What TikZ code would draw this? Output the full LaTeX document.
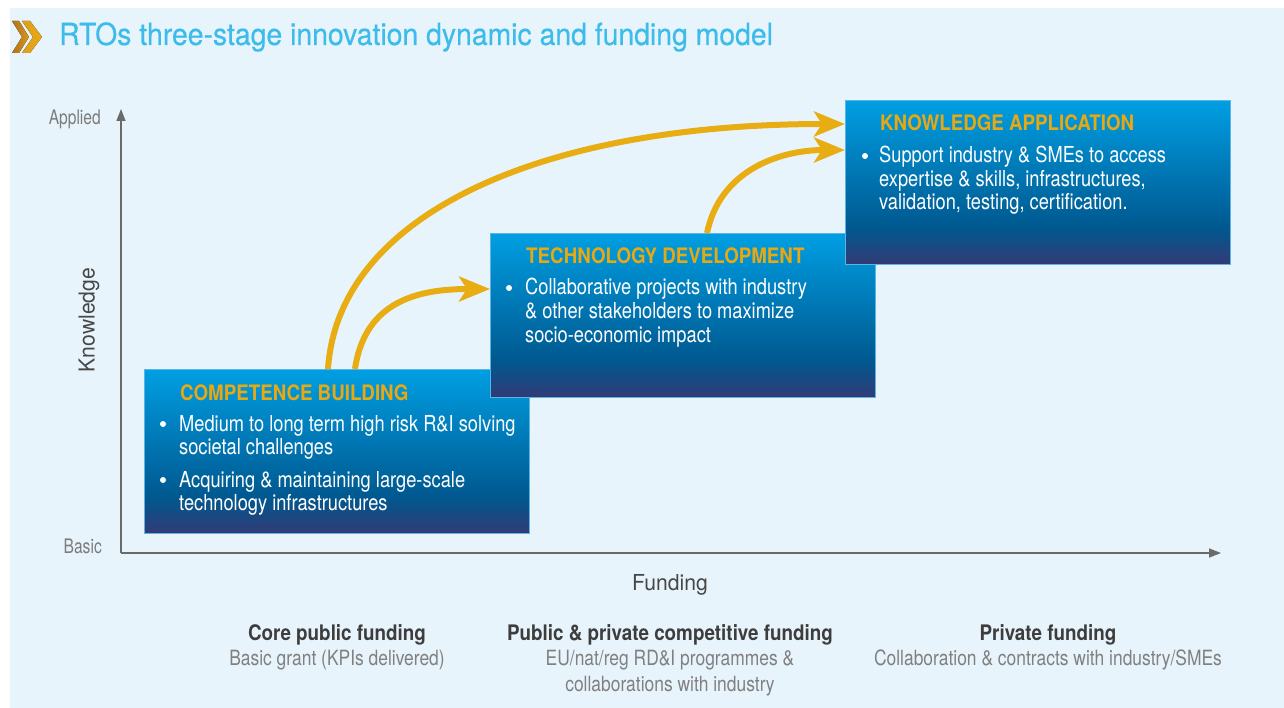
\documentclass[tikz,border=0pt]{standalone}
\usepackage{fontspec}
\setmainfont{TeX Gyre Heros}[FakeStretch=0.83]
\newfontfamily\boldface{TeX Gyre Heros}[FakeStretch=0.88]
\newfontfamily\titleface{TeX Gyre Heros}[FakeStretch=0.93, FakeBold=0.4]
\newfontfamily\axisface{TeX Gyre Heros}[FakeStretch=0.96]
\newfontfamily\tickface{TeX Gyre Heros}[FakeStretch=0.78]
\usetikzlibrary{arrows.meta,calc}

\definecolor{paper}{HTML}{E8F4FC}
\definecolor{titleblue}{HTML}{3CBCEB}
\definecolor{gold}{HTML}{E9AD14}
\definecolor{headgold}{HTML}{E8A812}
\definecolor{topblue}{HTML}{009FE3}
\definecolor{midblue}{HTML}{00588F}
\definecolor{navy}{HTML}{2E3D78}
\definecolor{boxedge}{HTML}{5DB3E3}
\definecolor{axisgray}{HTML}{6A6A6A}
\definecolor{ticktext}{HTML}{7C7C7C}
\definecolor{labeltext}{HTML}{474747}
\definecolor{fundhead}{HTML}{3D3D3D}
\definecolor{fundsub}{HTML}{808080}
\definecolor{chevdark}{HTML}{B0701C}
\definecolor{chevlight}{HTML}{E8AA19}

% blue-to-navy fill of the stage boxes (path maps to 25bp..75bp)
\pgfdeclareverticalshading{stagefill}{100bp}{%
  color(0bp)=(navy); color(26bp)=(navy); color(36bp)=(midblue);
  color(75bp)=(topblue); color(100bp)=(topblue)}

\tikzset{
  stagebox/.style={rectangle, anchor=north west, inner sep=0pt,
    minimum width=385pt, minimum height=164pt,
    shading=stagefill, draw=boxedge, line width=0.8pt},
  heading/.style={anchor=base west, inner sep=0pt, text=headgold,
    font=\boldface\bfseries\fontsize{21.3}{24}\selectfont},
  body/.style={anchor=base west, inner sep=0pt, text=white,
    font=\fontsize{22}{24}\selectfont},
  dot/.style={circle, fill=white, inner sep=0pt, minimum size=6pt},
  flow/.style={draw=gold, line width=6pt,
    -{Stealth[length=31pt, width=25pt, inset=8pt]}},
  axis/.style={draw=axisgray, line width=1.4pt,
    -{Triangle[length=12pt, width=9pt]}},
  ticklabel/.style={inner sep=0pt, text=ticktext,
    font=\tickface\fontsize{20}{22}\selectfont},
  axislabel/.style={inner sep=0pt, text=labeltext,
    font=\axisface\fontsize{22}{24}\selectfont},
  fundhead/.style={anchor=base, inner sep=0pt, text=fundhead,
    font=\boldface\bfseries\fontsize{21.4}{24}\selectfont},
  fundsub/.style={anchor=base, inner sep=0pt, text=fundsub,
    font=\fontsize{21}{24}\selectfont},
}

\begin{document}
\begin{tikzpicture}[x=1pt, y=-1pt]
\useasboundingbox (0,0) rectangle (1284,708);
\fill[white] (0,0) rectangle (1284,708);
\fill[paper] (10,8) rectangle (1284,708);

% title with double chevron mark
\fill[left color=chevdark, right color=chevlight!70!chevdark]
  (12,21) -- (19,21) -- (29,37) -- (19,53) -- (12,53) -- (22,37) -- cycle;
\fill[left color=chevlight!80!chevdark, right color=chevlight]
  (22,21) -- (30,21) -- (42,37) -- (30,53) -- (22,53) -- (33,37) -- cycle;
\node[anchor=base west, inner sep=0pt, text=titleblue,
  font=\titleface\fontsize{30.5}{34}\selectfont] (title) at (59,45)
  {RTOs three-stage innovation dynamic and funding model};

% axes
\coordinate (origin) at (121,553);
\coordinate (ytop) at (121,109);
\coordinate (xend) at (1221,553);
\draw[axis] (origin) -- (ytop);
\draw[axis] (origin) -- (xend);
\node[ticklabel, anchor=base east] (applied) at (101,125) {Applied};
\node[ticklabel, anchor=base east] (basic) at (102,553) {Basic};
\node[axislabel, rotate=90] (knowledge) at (89,320) {Knowledge};
\node[axislabel, anchor=base] (funding) at (670,590) {Funding};

% stage boxes
\node[stagebox] (cb) at (144,369) {};
\node[stagebox] (td) at (490,233) {};
\node[stagebox] (ka) at (845,100) {};

% competence building
\node[heading] (cbh) at (180,400) {COMPETENCE BUILDING};
\node[dot] (cbd1) at (163,424) {};
\node[body] (cb1) at (179,431) {Medium to long term high risk R\&I solving};
\node[body] (cb2) at (179,454.5) {societal challenges};
\node[dot] (cbd2) at (163,480) {};
\node[body] (cb3) at (179,487) {Acquiring \& maintaining large-scale};
\node[body] (cb4) at (179,510) {technology infrastructures};

% technology development
\node[heading] (tdh) at (526,264) {TECHNOLOGY DEVELOPMENT};
\node[dot] (tdd1) at (509,288) {};
\node[body] (td1) at (525,295) {Collaborative projects with industry};
\node[body] (td2) at (525,318.5) {\& other stakeholders to maximize};
\node[body] (td3) at (525,342) {socio-economic impact};

% knowledge application
\node[heading] (kah) at (880,131) {KNOWLEDGE APPLICATION};
\node[dot] (kad1) at (865,156) {};
\node[body] (ka1) at (879,163) {Support industry \& SMEs to access};
\node[body] (ka2) at (879,186.5) {expertise \& skills, infrastructures,};
\node[body] (ka3) at (879,210) {validation, testing, certification.};

% flows between stages
\coordinate (cbout1) at ($(cb.north west)+(184,0)$);
\coordinate (cbout2) at ($(cb.north west)+(211,0)$);
\coordinate (tdin) at ($(td.north west)+(0,56)$);
\coordinate (tdout) at ($(td.north west)+(217,0)$);
\coordinate (kain1) at ($(ka.north west)+(0,24)$);
\coordinate (kain2) at ($(ka.north west)+(0,50)$);
\draw[flow] (cbout1) .. controls (338,215) and (540,124) .. (kain1);
\draw[flow] (cbout2) .. controls (365,300) and (420,289) .. (tdin);
\draw[flow] (tdout) .. controls (720,170) and (780,150) .. (kain2);

% funding sources
\node[fundhead] (core) at (337,640) {Core public funding};
\node[fundsub] (coresub) at (337,665) {Basic grant (KPIs delivered)};
\node[fundhead] (comp) at (670,640) {Public \& private competitive funding};
\node[fundsub] (compsub1) at (670,665) {EU/nat/reg RD\&I programmes \&};
\node[fundsub] (compsub2) at (670,691) {collaborations with industry};
\node[fundhead] (priv) at (1048,640) {Private funding};
\node[fundsub] (privsub) at (1048,665) {Collaboration \& contracts with industry/SMEs};
\end{tikzpicture}
\end{document}
